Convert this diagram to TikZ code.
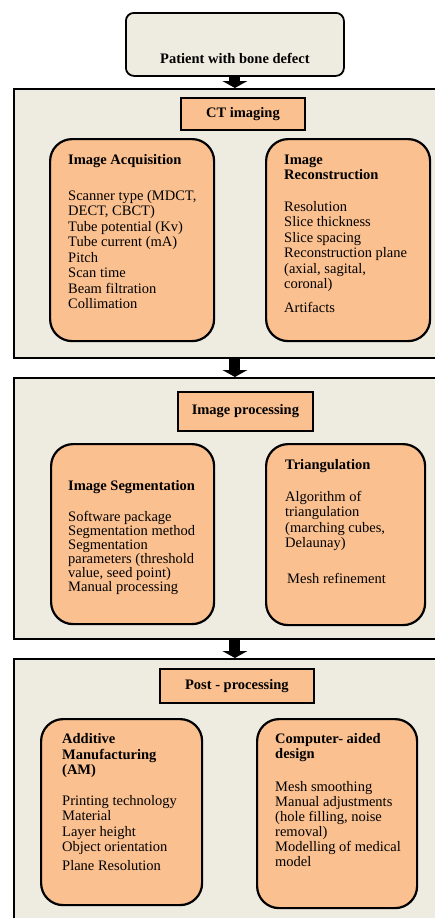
\documentclass[tikz,border=0pt]{standalone}
\usepackage{fontspec}
\setmainfont{Liberation Serif}
\usetikzlibrary{positioning,arrows.meta}

\definecolor{panelbg}{RGB}{238,236,225}
\definecolor{peach}{RGB}{250,192,144}

\tikzset{
    panel/.style={draw=black, line width=2pt, fill=panelbg, anchor=north west, inner sep=0pt},
    head/.style={draw=black, line width=1.8pt, fill=peach, anchor=north west, inner sep=0pt, font=\fontsize{14.5}{15.5}\selectfont\bfseries},
    card/.style={draw=black, line width=2.2pt, fill=peach, rounded corners=22pt, anchor=north west, inner sep=0pt},
    cardtext/.style={align=left, inner sep=0pt, font=\fontsize{14.5}{15.5}\selectfont},
    bigarrow/.style={line width=11pt, -{Triangle[width=25pt,length=7pt,line width=0pt]}},
}

\begin{document}
\begin{tikzpicture}[x=1pt,y=-1pt]
        \useasboundingbox (0,0) rectangle (435,918);
        \clip (0,0) rectangle (435,918);

        \node[head, rounded corners=8pt, fill=panelbg, minimum width=218pt, minimum height=63pt, text height=42pt, text depth=3pt] (patient) at (125,12) {Patient with bone defect};

        % the three stages
        \node[panel, minimum width=440pt, minimum height=269pt] (ctpanel) at (13,88) {};
        \node[panel, minimum width=440pt, minimum height=261pt] (ippanel) at (13,377) {};
        \node[panel, minimum width=440pt, minimum height=280pt] (postpanel) at (13,658) {};

        \node[head, minimum width=124pt, minimum height=32pt] (ct) at (180,97) {CT imaging};
        \node[head, minimum width=135pt, minimum height=39pt] (ip) at (177,391) {Image processing};
        \node[head, minimum width=154pt, minimum height=34pt] (post) at (159,668) {Post - processing};

        \node[card, minimum width=164pt, minimum height=202pt] (acq) at (49,138) {};
        \node[card, minimum width=164pt, minimum height=202pt] (rec) at (265,138) {};
        \node[card, minimum width=163pt, minimum height=180pt] (seg) at (50,443) {};
        \node[card, minimum width=159pt, minimum height=181pt] (tri) at (265,443) {};
        \node[card, minimum width=161pt, minimum height=186pt] (am) at (40,718) {};
        \node[card, minimum width=160pt, minimum height=189pt] (cad) at (256,718) {};

        \node[cardtext, below right=16.5pt and 19pt of acq.north west] (acqtext) {\textbf{Image Acquisition}\\[20pt]Scanner type (MDCT,\\DECT, CBCT)\\Tube potential (Kv)\\Tube current (mA)\\Pitch\\Scan time\\Beam filtration\\Collimation};
        \node[cardtext, below right=16.5pt and 19pt of rec.north west] (rectext) {\textbf{Image}\\\textbf{Reconstruction}\\[16pt]Resolution\\Slice thickness\\Slice spacing\\Reconstruction plane\\(axial, sagital,\\coronal)\\[8pt]Artifacts};
        \node[cardtext, font=\fontsize{14.5}{14}\selectfont, below right=37pt and 18pt of seg.north west] (segtext) {\textbf{Image Segmentation}\\[17pt]Software package\\Segmentation method\\Segmentation\\parameters (threshold\\value, seed point)\\Manual processing};
        \node[cardtext, below right=16.5pt and 20pt of tri.north west] (tritext) {\textbf{Triangulation}\\[16pt]Algorithm of\\triangulation\\(marching cubes,\\Delaunay)\\[20pt]\hspace{2pt}Mesh refinement};
        \node[cardtext, below right=15.5pt and 22pt of am.north west] (amtext) {\textbf{Additive}\\\textbf{Manufacturing}\\\textbf{(AM)}\\[15pt]Printing technology\\Material\\Layer height\\Object orientation\\[3pt]Plane Resolution};
        \node[cardtext, font=\fontsize{14.5}{15}\selectfont, below right=15.5pt and 19pt of cad.north west] (cadtext) {\textbf{Computer- aided}\\\textbf{design}\\[18pt]Mesh smoothing\\Manual adjustments\\(hole filling, noise\\removal)\\Modelling of medical\\model};

        \draw[bigarrow] (patient.south) -- (patient.south |- ctpanel.north);
        \draw[bigarrow] (patient.south |- ctpanel.south) -- (patient.south |- ippanel.north);
        \draw[bigarrow] (patient.south |- ippanel.south) -- (patient.south |- postpanel.north);
\end{tikzpicture}
\end{document}
